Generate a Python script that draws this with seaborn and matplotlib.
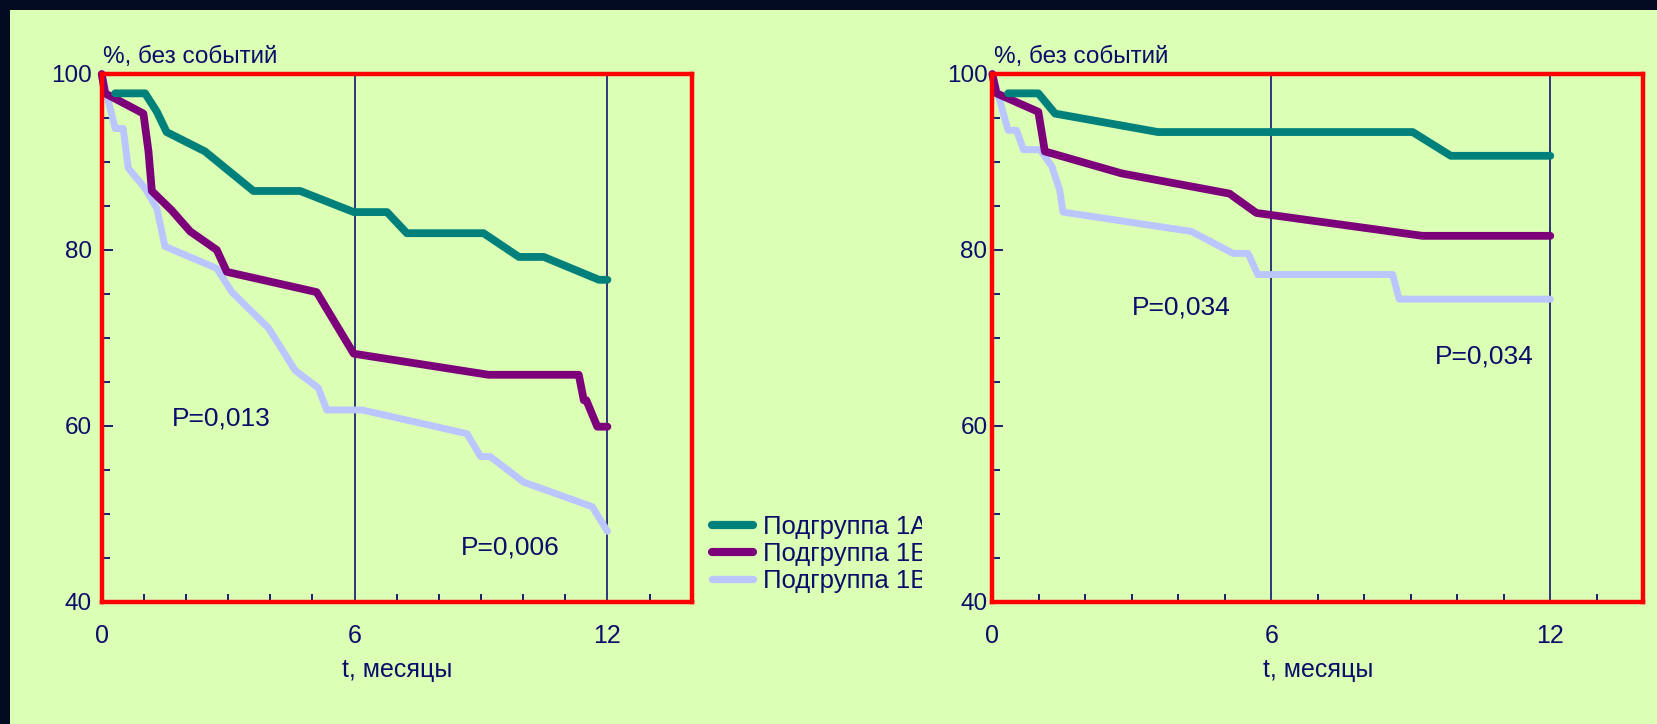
import numpy as np
import pandas as pd
import matplotlib
matplotlib.use("Agg")
import matplotlib.pyplot as plt
import seaborn as sns
from matplotlib import font_manager as fm
from matplotlib.patches import Rectangle
from matplotlib.lines import Line2D
from matplotlib.ticker import MultipleLocator, FixedLocator

# ---------------- data ----------------
GROUPS = ["Подгруппа 1А", "Подгруппа 1Б", "Подгруппа 1В"]

# left panel
L_T_1A = [0.32, 1.03, 1.31, 1.54, 2.45, 3.6, 4.71, 5.98, 6.77, 7.24, 9.06, 9.9, 10.49, 11.8, 12.0]
L_V_1A = [97.8, 97.8, 95.7, 93.4, 91.2, 86.7, 86.7, 84.3, 84.3, 81.9, 81.9, 79.2, 79.2, 76.6, 76.6]
L_T_1B = [0, 0.08, 0.99, 1.11, 1.19, 1.66, 2.1, 2.73, 2.97, 5.1, 5.98, 9.18, 11.32, 11.44, 11.5, 11.76, 12.0]
L_V_1B = [100, 97.8, 95.5, 91.2, 86.7, 84.5, 82.1, 80.0, 77.5, 75.2, 68.2, 65.8, 65.8, 62.9, 62.9, 59.9, 59.9]
L_T_1V = [0, 0.32, 0.51, 0.63, 1.03, 1.31, 1.5, 2.73, 3.09, 3.96, 4.59, 5.14, 5.34, 6.18, 8.67, 8.99, 9.22, 10.01, 11.64, 12.0]
L_V_1V = [100, 93.8, 93.8, 89.3, 87.0, 84.7, 80.4, 77.9, 75.2, 71.1, 66.3, 64.3, 61.8, 61.8, 59.1, 56.5, 56.5, 53.6, 50.8, 48.0]

# right panel
R_T_1A = [0.34, 0.99, 1.35, 3.56, 9.04, 9.86, 12.0]
R_V_1A = [97.8, 97.8, 95.5, 93.4, 93.4, 90.7, 90.7]
R_T_1B = [0, 0.09, 0.99, 1.13, 2.78, 5.1, 5.68, 9.25, 12.0]
R_V_1B = [100, 97.8, 95.7, 91.2, 88.7, 86.4, 84.2, 81.6, 81.6]
R_T_1V = [0, 0.34, 0.52, 0.67, 1.03, 1.28, 1.45, 1.52, 4.28, 5.18, 5.5, 5.71, 8.61, 8.75, 12.0]
R_V_1V = [100, 93.6, 93.6, 91.4, 91.4, 89.5, 86.8, 84.3, 82.1, 79.6, 79.6, 77.2, 77.2, 74.4, 74.4]

X_TICKS = [0, 6, 12]
Y_TICKS = [40, 60, 80, 100]
Y_LABEL = "%, без событий"
X_LABEL = "t, месяцы"

L_NOTES = [("P=0,013", 2.83, 60.8), ("P=0,006", 9.7, 46.2)]
R_NOTES = [("P=0,034", 4.07, 73.5), ("P=0,034", 10.58, 67.9)]

# ---------------- style ----------------
COLORS = {"Подгруппа 1А": "#00807a", "Подгруппа 1Б": "#7b0079", "Подгруппа 1В": "#b9c6ff"}
WIDTHS = {"Подгруппа 1А": 5.6, "Подгруппа 1Б": 5.6, "Подгруппа 1В": 5.0}
BG = "#dcffb6"
DARK = "#020b20"
NAVY = "#0c0c6a"
RED = "#ff0000"

sns.set_theme(style="white")
names = {f.name for f in fm.fontManager.ttflist}
REG = "Liberation Sans" if "Liberation Sans" in names else "DejaVu Sans"
NARROW = "Liberation Sans Narrow" if "Liberation Sans Narrow" in names else REG
plt.rcParams["font.family"] = [REG, "DejaVu Sans"]

W, H = 1658, 724
fig = plt.figure(figsize=(W / 100, H / 100), dpi=100, facecolor=DARK)
fig.add_artist(Rectangle((10 / W, 0), 1, (H - 10) / H, transform=fig.transFigure,
                         facecolor=BG, edgecolor="none", zorder=-10))


def px_axes(x0, y0, x1, y1):
    return fig.add_axes([x0 / W, (H - y1) / H, (x1 - x0) / W, (y1 - y0) / H])


axL = px_axes(101.7, 74, 691.7, 601.7)
axR = px_axes(992.3, 74, 1643.3, 601.7)
axL.set_zorder(0)
axR.set_zorder(2)

panels = [
    (axL, [(L_T_1V, L_V_1V, GROUPS[2]), (L_T_1B, L_V_1B, GROUPS[1]), (L_T_1A, L_V_1A, GROUPS[0])], L_NOTES, REG, 7),
    (axR, [(R_T_1V, R_V_1V, GROUPS[2]), (R_T_1B, R_V_1B, GROUPS[1]), (R_T_1A, R_V_1A, GROUPS[0])], R_NOTES, NARROW, 3.5),
]

for ax, series, notes, font, ypad in panels:
    ax.set_facecolor(BG)
    for t, v, g in series:
        df = pd.DataFrame({"t": t, "v": v})
        sns.lineplot(data=df, x="t", y="v", ax=ax, color=COLORS[g], linewidth=WIDTHS[g],
                     sort=False, estimator=None, solid_capstyle="round",
                     solid_joinstyle="round", clip_on=False, legend=False)
    ax.set_xlim(0, 14)
    ax.set_ylim(40, 100)
    ax.xaxis.set_major_locator(FixedLocator(X_TICKS))
    ax.set_xticklabels([str(x) for x in X_TICKS])
    ax.xaxis.set_minor_locator(MultipleLocator(1))
    ax.yaxis.set_major_locator(FixedLocator(Y_TICKS))
    ax.set_yticklabels([str(y) for y in Y_TICKS])
    ax.yaxis.set_minor_locator(MultipleLocator(5))
    ax.set_axisbelow(True)
    ax.grid(False)
    ax.xaxis.grid(True, which="major", color="#000066", linewidth=1.1)
    for s in ax.spines.values():
        s.set_visible(True)
        s.set_color(RED)
        s.set_linewidth(3.2)
    ax.tick_params(axis="x", which="major", direction="in", length=0, pad=16,
                   labelsize=18, labelcolor=NAVY)
    ax.tick_params(axis="x", which="minor", direction="in", length=6, width=1.3,
                   color=NAVY, bottom=True)
    ax.tick_params(axis="y", which="major", direction="in", length=8, width=1.3,
                   color=NAVY, pad=ypad, labelsize=17.5, labelcolor=NAVY, left=True)
    ax.tick_params(axis="y", which="minor", direction="in", length=6, width=1.3,
                   color=NAVY, left=True)
    for lab in ax.get_xticklabels() + ax.get_yticklabels():
        lab.set_family([font, "DejaVu Sans"])
    ax.set_xlabel(X_LABEL, fontsize=18, color=NAVY, family=[font, "DejaVu Sans"])
    ax.xaxis.set_label_coords(0.5, -0.106)
    ax.set_ylabel("")
    ax.text(0.002, 1.012, Y_LABEL, transform=ax.transAxes, ha="left", va="bottom",
            fontsize=17.5, color=NAVY, family=[font, "DejaVu Sans"])
    for txt, x, y in notes:
        ax.text(x, y, txt, ha="center", va="center", fontsize=19, color=NAVY)

handles = [Line2D([0], [0], color=COLORS[g], linewidth=WIDTHS[g] + 0.3,
                  solid_capstyle="round") for g in GROUPS]
leg = axL.legend(handles, GROUPS, loc="center left",
                 bbox_to_anchor=(712 / W, (H - 554) / H), bbox_transform=fig.transFigure,
                 frameon=False, fontsize=18.5, handlelength=1.6, handletextpad=0.4,
                 labelspacing=0.12, borderpad=0, borderaxespad=0)
for t in leg.get_texts():
    t.set_color(NAVY)

# the legend labels are cut off at the right, as in the original slide
fig.add_artist(Rectangle((922 / W, (H - 600) / H), (990 - 922) / W, 95 / H,
                         transform=fig.transFigure, facecolor=BG, edgecolor="none",
                         zorder=1))

fig.savefig("out.png", dpi=100, facecolor=DARK)
